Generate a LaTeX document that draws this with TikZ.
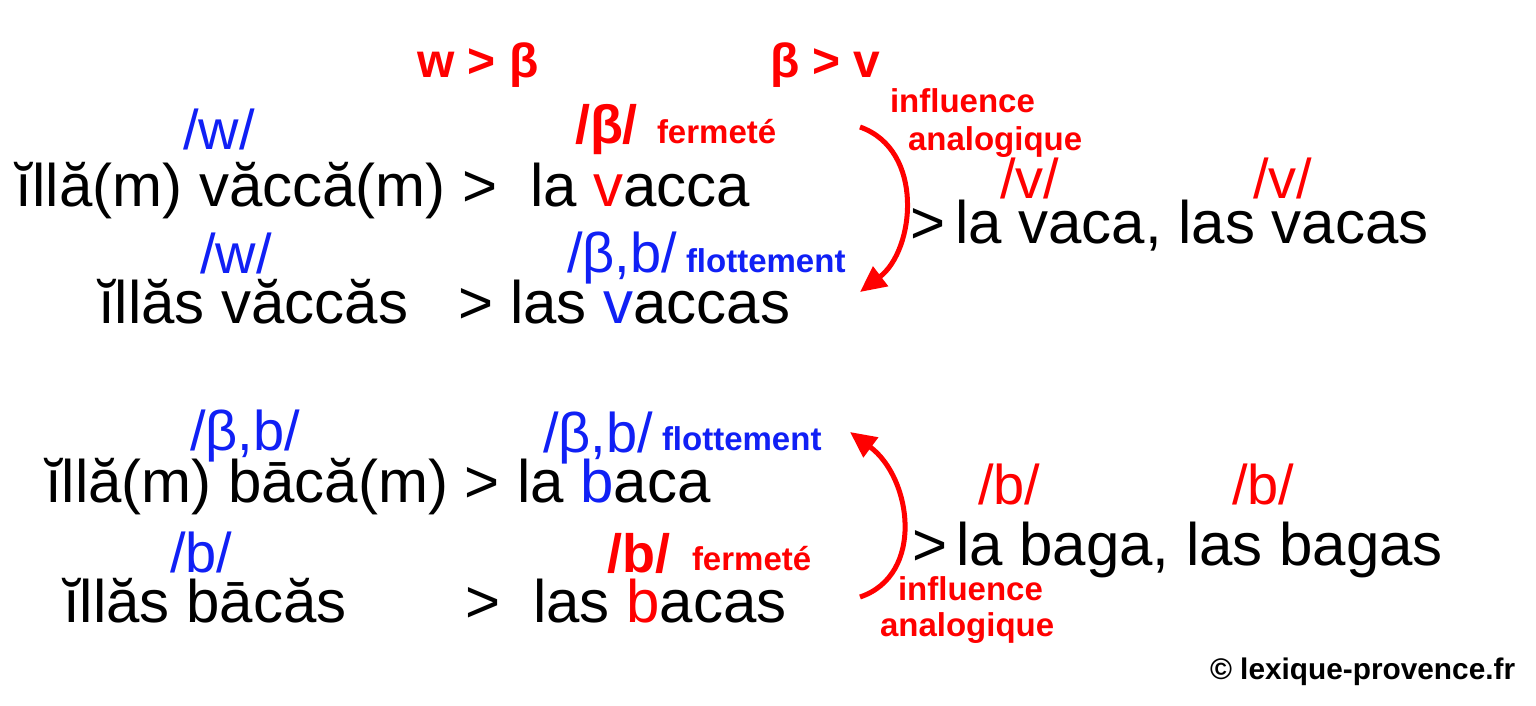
\documentclass[tikz,border=0pt]{standalone}
\usepackage{fontspec}
\setmainfont{Liberation Sans}
\usetikzlibrary{arrows.meta}
\definecolor{vred}{RGB}{255,0,0}
\definecolor{vblue}{RGB}{16,32,245}
\begin{document}
\begin{tikzpicture}[x=1pt,y=-1pt,
  txt/.style={anchor=base west, inner sep=0pt, outer sep=0pt},
  big/.style={txt, font=\fontsize{60}{72}\selectfont},
  phon/.style={txt, font=\fontsize{56}{66}\selectfont},
  phonb/.style={txt, font=\bfseries\fontsize{54}{64}\selectfont, text=vred},
  lab/.style={txt, font=\bfseries\fontsize{33}{40}\selectfont},
  soundlaw/.style={txt, font=\bfseries\fontsize{48}{56}\selectfont, text=vred},
  arc/.style={vred, line width=5pt, -{Triangle[length=26pt,width=24pt]}}]
\path[use as bounding box, fill=white] (0,0) rectangle (1536,705);

% sound laws
\node[soundlaw] (law1) at (417,77) {w > β};
\node[soundlaw] (law2) at (770,77) {β > v};

% upper block
\node[phon, text=vblue] (w1) at (183,149) {/w/};
\node[phonb] (beta1) at (575,143) {/β/};
\node[lab, text=vred] (ferm1) at (657,143) {fermeté};
\node[big] (illam) at (16,206) {ĭllă(m) văccă(m) >};
\node[big] (lavacca) at (530,206) {la \textcolor{vred}{v}acca};
\node[phon, text=vblue] (w2) at (200,273) {/w/};
\node[phon, text=vblue] (bb1) at (567,272) {/β,b/};
\node[lab, text=vblue] (flot1) at (686,272) {flottement};
\node[big] (illas) at (98,323) {ĭllăs văccăs};
\node[big] (gt1) at (458,323) {>};
\node[big] (lasvaccas) at (510,323) {las \textcolor{vblue}{v}accas};

\node[lab, text=vred] (infl1) at (890,112) {influence};
\node[lab, text=vred] (anal1) at (908,150) {analogique};
\node[phon, text=vred] (v1) at (1000,198) {/v/};
\node[phon, text=vred] (v2) at (1253,198) {/v/};
\node[big] (gt2) at (910,243) {>};
\node[big] (lavaca) at (955,243) {la vaca, las vacas};

\coordinate (a1s) at (860,127);
\coordinate (a1e) at (860,292);
\draw[arc] (a1s) .. controls (925,150) and (915,250) .. (a1e);

% lower block
\node[phon, text=vblue] (bb2) at (190,450) {/β,b/};
\node[phon, text=vblue] (bb3) at (543,452) {/β,b/};
\node[lab, text=vblue] (flot2) at (662,450) {flottement};
\node[big] (illab) at (45,502) {ĭllă(m) bācă(m) >};
\node[big] (labaca) at (517,502) {la \textcolor{vblue}{b}aca};
\node[phon, text=vblue] (b1) at (170,572) {/b/};
\node[phonb] (b2) at (607,572) {/b/};
\node[lab, text=vred] (ferm2) at (692,570) {fermeté};
\node[big] (illasb) at (63,622) {ĭllăs bācăs};
\node[big] (gt3) at (465,622) {>};
\node[big] (lasbacas) at (533,622) {las \textcolor{vred}{b}acas};

\node[phon, text=vred] (b3) at (978,504) {/b/};
\node[phon, text=vred] (b4) at (1232,504) {/b/};
\node[big] (gt4) at (912,565) {>};
\node[big] (labaga) at (956,565) {la baga, las bagas};
\node[lab, text=vred] (infl2) at (898,600) {influence};
\node[lab, text=vred] (anal2) at (880,636) {analogique};

\coordinate (a2s) at (860,597);
\coordinate (a2e) at (850,432);
\draw[arc] (a2s) .. controls (925,575) and (912,478) .. (a2e);

\node[txt, font=\bfseries\fontsize{29.8}{36}\selectfont] (copy) at (1210,679) {© lexique-provence.fr};
\end{tikzpicture}
\end{document}
